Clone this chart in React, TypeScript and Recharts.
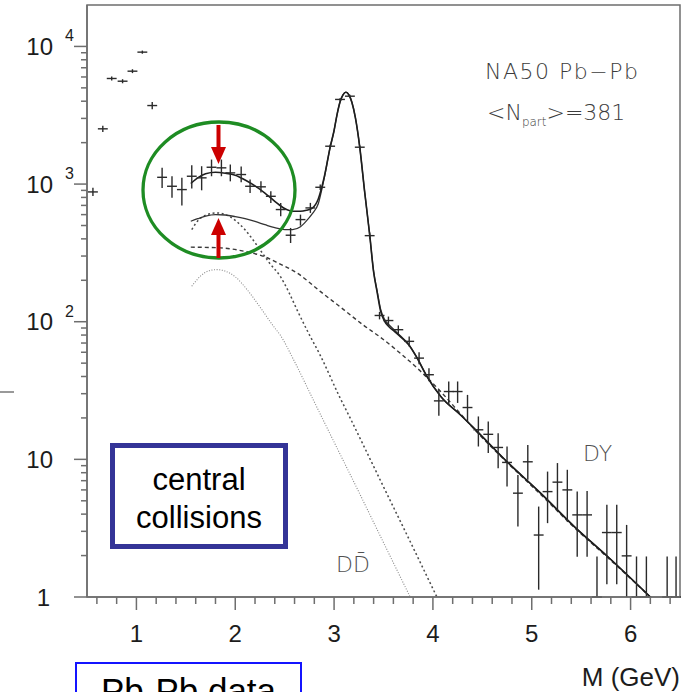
import React from 'react';
import { ComposedChart, Line, Scatter, ErrorBar, XAxis, YAxis, ReferenceArea } from 'recharts';

const AXIS = '#6e6e6e';
const INK = '#1c1c1c';

// ---- measured dimuon spectrum (NA50 Pb-Pb, central) ----
// bins whose content falls below the plotted range are shown at the axis floor (1)
const massBins = [0.56, 0.66, 0.75, 0.86, 0.96, 1.06, 1.16, 1.26, 1.36, 1.46, 1.56, 1.66, 1.76, 1.86, 1.95, 2.06, 2.15, 2.26, 2.36, 2.46, 2.56, 2.66, 2.76, 2.86, 2.96, 3.06, 3.16, 3.26, 3.36, 3.46, 3.55, 3.65, 3.76, 3.86, 3.96, 4.06, 4.16, 4.25, 4.35, 4.46, 4.56, 4.66, 4.75, 4.86, 4.96, 5.07, 5.16, 5.26, 5.36, 5.46, 5.56, 5.66, 5.76, 5.86, 5.96, 6.06, 6.16, 6.37, 6.46];
const yields = [877, 2520, 5850, 5590, 6610, 9090, 3720, 1120, 964, 912, 1140, 1110, 1325, 1312, 1206, 1173, 964, 955, 815, 653, 425, 552, 671, 948, 1884, 4120, 4350, 1853, 422, 111, 102, 87.5, 72, 54.4, 41.2, 26.6, 31.1, 31.1, 23.8, 16.4, 15.2, 12.2, 9.5, 5.68, 9.6, 2.82, 5.83, 6.83, 6.0, 3.95, 3.95, 1, 2.94, 2.94, 1.99, 1, 1, 1, 1];
const yieldLow = [820, 2390, 5650, 5400, 6400, 8850, 3500, 938, 794, 698, 927, 901, 1140, 1140, 1047, 1030, 863, 870, 730, 583, 373, 499, 617, 905, 1830, 4030, 4250, 1800, 400, 104, 95, 81, 66, 49, 37, 20.7, 24.9, 25.7, 18.8, 12.4, 11.1, 8.63, 6.34, 3.25, 7.1, 1.13, 3.44, 4.3, 3.53, 1.96, 1.96, 1, 1.24, 1.24, 1, 1, 1, 1, 1];
const yieldHigh = [940, 2650, 6050, 5780, 6830, 9330, 3950, 1312, 1140, 1110, 1371, 1348, 1507, 1507, 1387, 1340, 1079, 1050, 887, 730, 480, 600, 730, 995, 1940, 4210, 4450, 1910, 445, 118, 109, 94, 78, 60, 46, 32, 36.8, 36.8, 29.4, 20.5, 18.8, 15.5, 12.4, 7.7, 12.7, 4.54, 8.15, 9.4, 8.4, 5.83, 5.9, 1.97, 4.67, 4.67, 3.34, 1.97, 1.97, 1.97, 1.97];
const binHalfWidth = 0.05;

// ---- fit curves ----
const fitMass = [1.55, 1.62, 1.7, 1.8, 1.9, 2.0, 2.1, 2.2, 2.3, 2.4, 2.5, 2.58, 2.66, 2.72, 2.78, 2.84, 2.9, 2.96, 3.0, 3.03, 3.06, 3.09, 3.12, 3.15, 3.18, 3.215, 3.26, 3.31, 3.36, 3.4, 3.435, 3.47, 3.51, 3.555, 3.61, 3.67, 3.755, 3.84, 3.94, 4.08, 4.28, 4.41, 4.75, 5.09, 5.43, 5.77, 6.2];
const fitHigh = [1010, 1110, 1190, 1220, 1200, 1160, 1070, 970, 860, 750, 665, 635, 634, 645, 670, 780, 1120, 1850, 2450, 3200, 3950, 4450, 4650, 4450, 3930, 3050, 1850, 870, 430, 230, 165, 120, 101, 92, 85, 78, 68, 54.5, 40, 28.6, 21, 17, 9.6, 5.68, 3.25, 1.96, 1.0];
const fitLow = [537, 560, 585, 600, 596, 580, 560, 535, 507, 482, 467, 467, 490, 540, 610, 720, 1105, 1850, 2450, 3200, 3950, 4450, 4650, 4450, 3930, 3050, 1850, 870, 430, 232, 168, 124, 104, 95, 87, 79, 68.5, 54.5, 40, 28.6, 21, 17, 9.6, 5.68, 3.25, 1.96, 1.0];

const dyMass = [1.55, 1.85, 2.1, 2.29, 2.45, 2.625, 2.86, 3.1, 3.3, 3.47, 3.67, 3.87, 4.08, 4.28, 4.41, 4.75, 5.09, 5.43, 5.77, 6.2];
const dyYield = [348, 344, 324, 298, 263, 226, 166, 122, 94, 77, 59, 44, 31, 21.4, 16.8, 9.5, 5.56, 3.2, 1.93, 1.0];

const excessMass = [1.56, 1.62, 1.7, 1.81, 1.9, 2.0, 2.05, 2.15, 2.25, 2.35, 2.455, 2.54, 2.625, 2.74, 2.86, 3.05, 3.165, 3.32, 3.47, 3.74, 4.04];
const excessYield = [467, 540, 595, 617, 600, 545, 507, 420, 334, 265, 214, 165, 122, 83, 57, 29, 19.8, 11.7, 7.0, 2.8, 1.0];

const charmMass = [1.56, 1.65, 1.73, 1.81, 1.9, 2.0, 2.12, 2.25, 2.39, 2.455, 2.59, 2.79, 3.05, 3.25, 3.47, 3.77];
const charmYield = [181, 215, 234, 239, 233, 212, 171, 128, 92, 80, 53, 27, 11.3, 5.8, 2.75, 1.0];

// ---- axes ----
const X_TICKS = [0.6, 0.8, 1, 1.2, 1.4, 1.6, 1.8, 2, 2.2, 2.4, 2.6, 2.8, 3, 3.2, 3.4, 3.6, 3.8, 4, 4.2, 4.4, 4.6, 4.8, 5, 5.2, 5.4, 5.6, 5.8, 6, 6.2, 6.4];
const X_LABELS = [1, 2, 3, 4, 5, 6];
const Y_TICKS = [1, 2, 3, 4, 5, 6, 7, 8, 9, 10, 20, 30, 40, 50, 60, 70, 80, 90, 100, 200, 300, 400, 500, 600, 700, 800, 900, 1000, 2000, 3000, 4000, 5000, 6000, 7000, 8000, 9000, 10000];
const Y_MAJOR = [1, 10, 100, 1000, 10000];
const Y_EXP: Record<number, string> = { 100: '2', 1000: '3', 10000: '4' };

const points = massBins.map((m, i) => ({
  m,
  v: yields[i],
  ey: [yields[i] - yieldLow[i], yieldHigh[i] - yields[i]],
  ex: binHalfWidth,
}));
const zip = (xs: number[], ys: number[], key: string) => xs.map((m, i) => ({ m, [key]: ys[i] }));
const upperFit = zip(fitMass, fitHigh, 'y');
const lowerFit = zip(fitMass, fitLow, 'y');
const dyCurve = zip(dyMass, dyYield, 'y');
const excessCurve = zip(excessMass, excessYield, 'y');
const charmCurve = zip(charmMass, charmYield, 'y');

const TICK_FONT = '"Liberation Sans", Arial, Helvetica, sans-serif';

const YTick = (props: any) => {
  const { x, y, payload } = props;
  const v = payload.value;
  const major = Y_MAJOR.includes(v);
  return (
    <g>
      <line x1={x - (major ? 13 : 6)} x2={x} y1={y} y2={y} stroke={AXIS} strokeWidth={1.5} />
      {major && v < 100 && (
        <text x={x - (v === 1 ? 37 : 34)} y={y + 8.6} textAnchor="end" fontFamily={TICK_FONT} fontSize={24} fill={INK}>
          {v === 1 ? '1' : '10'}
        </text>
      )}
      {major && v >= 100 && (
        <g>
          <text x={x - 34} y={y + 8.6} textAnchor="end" fontFamily={TICK_FONT} fontSize={24} fill={INK}>10</text>
          <text x={x - 22} y={y - 5} textAnchor="start" fontFamily={TICK_FONT} fontSize={16} fill={INK}>{Y_EXP[v]}</text>
        </g>
      )}
    </g>
  );
};

const XTick = (props: any) => {
  const { x, y, payload } = props;
  const v = payload.value;
  const major = X_LABELS.includes(v);
  return (
    <g>
      <line x1={x} x2={x} y1={y} y2={y + (major ? 13 : 7)} stroke={AXIS} strokeWidth={1.5} />
      {major && (
        <text x={x} y={y + 44.6} textAnchor="middle" fontFamily={TICK_FONT} fontSize={24} fill={INK}>{v}</text>
      )}
    </g>
  );
};

const LABEL_FONT = '"DejaVu Sans", Verdana, sans-serif';

export default function App() {
  return (
    <div style={{ position: 'absolute', left: 0, top: 0, width: 688, height: 692, overflow: 'hidden', background: '#fff' }}>
      <ComposedChart width={688} height={692} margin={{ top: 5, right: 8, bottom: 0, left: 0 }}>
        <XAxis
          dataKey="m"
          type="number"
          domain={[0.5, 6.5]}
          ticks={X_TICKS}
          interval={0}
          tickSize={0}
          tickMargin={0}
          tickLine={false}
          tick={<XTick />}
          height={95}
          axisLine={{ stroke: AXIS, strokeWidth: 1.5 }}
          allowDataOverflow
        />
        <YAxis
          type="number"
          scale="log"
          domain={[1, 20000]}
          ticks={Y_TICKS}
          interval={0}
          tickSize={0}
          tickMargin={0}
          tickLine={false}
          tick={<YTick />}
          width={87}
          axisLine={{ stroke: AXIS, strokeWidth: 1.5 }}
          allowDataOverflow
        />
        <ReferenceArea x1={0.5} x2={6.5} y1={1} y2={20000} fill="none" stroke={AXIS} strokeWidth={1.5} />
        <Line data={charmCurve} dataKey="y" type="monotone" stroke="#8a8a8a" strokeWidth={1.1} strokeDasharray="1 1.6" dot={false} activeDot={false} isAnimationActive={false} />
        <Line data={excessCurve} dataKey="y" type="monotone" stroke="#4a4a4a" strokeWidth={1.5} strokeDasharray="2 2.6" dot={false} activeDot={false} isAnimationActive={false} />
        <Line data={dyCurve} dataKey="y" type="monotone" stroke="#3a3a3a" strokeWidth={1.4} strokeDasharray="4 3" dot={false} activeDot={false} isAnimationActive={false} />
        <Line data={lowerFit} dataKey="y" type="monotone" stroke="#333" strokeWidth={1.3} dot={false} activeDot={false} isAnimationActive={false} />
        <Line data={upperFit} dataKey="y" type="monotone" stroke="#1e1e1e" strokeWidth={1.6} dot={false} activeDot={false} isAnimationActive={false} />
        <Scatter data={points} dataKey="v" shape={() => <g />} isAnimationActive={false}>
          <ErrorBar dataKey="ey" direction="y" width={0} stroke="#2a2a2a" strokeWidth={1.4} isAnimationActive={false} />
          <ErrorBar dataKey="ex" direction="x" width={0} stroke="#2a2a2a" strokeWidth={1.4} isAnimationActive={false} />
        </Scatter>
      </ComposedChart>
      <svg width={688} height={692} style={{ position: 'absolute', left: 0, top: 0, pointerEvents: 'none' }}>
        <line x1={0} x2={14} y1={392} y2={392} stroke="#777" strokeWidth={1.5} />
        <text x={485} y={79} fontFamily={LABEL_FONT} fontSize={22} fontWeight={300} fill="#3c3c3c" letterSpacing={1.5}>NA50  Pb−Pb</text>
        <text x={487} y={120} fontFamily={LABEL_FONT} fontSize={22} fontWeight={300} fill="#3c3c3c">
          &lt;N<tspan fontSize={12} dy={6}>part</tspan><tspan dy={-6}>&gt;=381</tspan>
        </text>
        <text x={583} y={461} fontFamily={LABEL_FONT} fontSize={22} fontWeight={300} fill="#505050">DY</text>
        <text x={336} y={572} fontFamily={LABEL_FONT} fontSize={22} fontWeight={300} fill="#505050">{'DD\u0304'}</text>
        <ellipse cx={219} cy={190} rx={76} ry={68} fill="none" stroke="#1e8c23" strokeWidth={3.3} />
        <line x1={218.5} x2={218.5} y1={125} y2={150} stroke="#cc0000" strokeWidth={4} />
        <polygon points="211,147 226,147 218.5,164" fill="#cc0000" />
        <line x1={218.5} x2={218.5} y1={233} y2={258} stroke="#cc0000" strokeWidth={4} />
        <polygon points="211,235 226,235 218.5,218" fill="#cc0000" />
        <rect x={112.5} y={445.5} width={173} height={101} fill="#fff" stroke="#343497" strokeWidth={5} />
        <text x={199} y={490} textAnchor="middle" fontFamily={TICK_FONT} fontSize={31} fill="#000">central</text>
        <text x={199} y={528} textAnchor="middle" fontFamily={TICK_FONT} fontSize={31} fill="#000">collisions</text>
        <text x={680} y={686} textAnchor="end" fontFamily={TICK_FONT} fontSize={26} fill={INK}>M (GeV)</text>
        <rect x={76} y={663} width={225} height={45} fill="#fff" stroke="#1414ff" strokeWidth={2} />
        <text x={188.5} y={703} textAnchor="middle" fontFamily={TICK_FONT} fontSize={35} fill="#000">Pb-Pb data</text>
      </svg>
    </div>
  );
}
